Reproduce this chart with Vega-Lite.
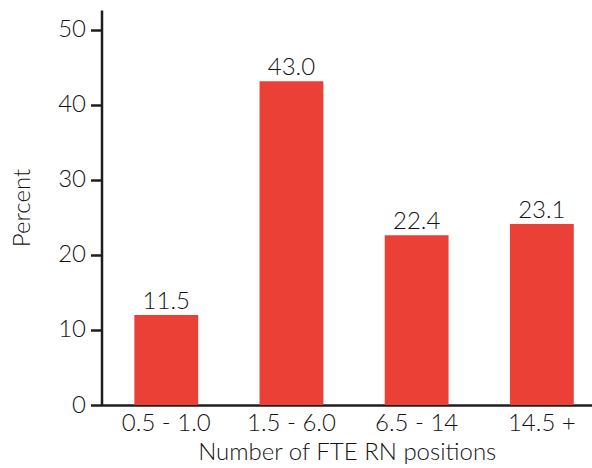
{
  "$schema": "https://vega.github.io/schema/vega-lite/v6.json",
  "description": "Share of hospitals by number of FTE RN positions",
  "width": 490.5,
  "height": 395,
  "autosize": "none",
  "padding": {"left": 101.5, "top": 10, "right": 0, "bottom": 63},
  "background": "white",
  "config": {
    "font": "Lato",
    "view": {"stroke": null},
    "axis": {
      "labelColor": "#141414",
      "titleColor": "#141414",
      "labelFontSize": 24,
      "titleFontSize": 24,
      "labelFontWeight": 300,
      "titleFontWeight": 300,
      "grid": false,
      "domainColor": "#1e1e1e",
      "domainWidth": 2.5,
      "tickColor": "#1e1e1e",
      "tickWidth": 2.5
    }
  },
  "data": {
    "values": [
      {"fte": "0.5 - 1.0", "pct": 12.0, "label": "11.5"},
      {"fte": "1.5 - 6.0", "pct": 43.1, "label": "43.0"},
      {"fte": "6.5 - 14", "pct": 22.6, "label": "22.4"},
      {"fte": "14.5 +", "pct": 24.1, "label": "23.1"}
    ]
  },
  "encoding": {
    "x": {
      "field": "fte",
      "type": "nominal",
      "sort": null,
      "scale": {"paddingInner": 0.49, "paddingOuter": 0.204, "align": 0.643},
      "axis": {
        "title": "Number of FTE RN positions",
        "labelAngle": 0,
        "ticks": false,
        "labelPadding": 6,
        "titlePadding": 5
      }
    },
    "y": {
      "field": "pct",
      "type": "quantitative",
      "scale": {"domain": [0, 52.6], "nice": false},
      "axis": {
        "title": "Percent",
        "values": [0, 10, 20, 30, 40, 50],
        "tickSize": 11,
        "labelPadding": 5,
        "titlePadding": 23
      }
    }
  },
  "layer": [
    {"mark": {"type": "bar", "color": "#ea4035"}},
    {
      "mark": {"type": "text", "baseline": "alphabetic", "dy": -6, "fontSize": 24, "fontWeight": 300, "color": "#141414"},
      "encoding": {"text": {"field": "label"}}
    }
  ]
}
